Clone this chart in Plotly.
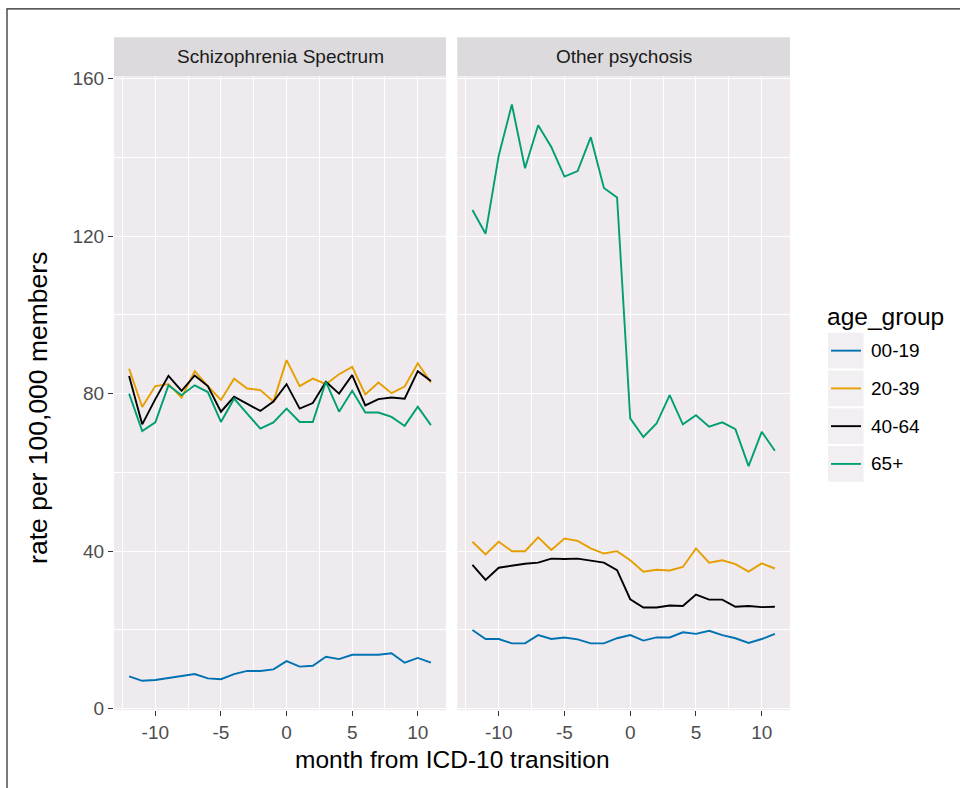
import plotly.graph_objects as go

months = list(range(-12, 12))
age_groups = ["00-19", "20-39", "40-64", "65+"]
colors = ["#0072B2", "#E69F00", "#000000", "#009E73"]
facets = ["Schizophrenia Spectrum", "Other psychosis"]

schiz_0019 = [8.2, 7.1, 7.3, 7.8, 8.3, 8.8, 7.7, 7.5, 8.8, 9.6, 9.6, 10.0,
              12.1, 10.7, 10.9, 13.2, 12.6, 13.7, 13.7, 13.7, 14.1, 11.7, 12.9, 11.7]
schiz_2039 = [86.3, 76.6, 81.9, 82.4, 79.0, 85.7, 81.9, 78.4, 83.8, 81.3, 80.9, 78.0,
              88.5, 81.9, 83.8, 82.4, 84.9, 86.8, 79.8, 82.8, 80.1, 81.8, 87.7, 82.8]
schiz_4064 = [84.5, 72.2, 78.6, 84.5, 80.7, 84.6, 81.9, 75.4, 79.2, 77.3, 75.6, 78.0,
              82.4, 76.2, 77.6, 83.0, 80.0, 84.7, 77.0, 78.6, 79.0, 78.7, 85.7, 83.2]
schiz_65 = [80.0, 70.5, 72.7, 82.1, 79.6, 82.1, 80.4, 72.8, 78.7, 75.0, 71.1, 72.7,
            76.2, 72.8, 72.8, 83.0, 75.4, 80.7, 75.2, 75.2, 74.1, 71.8, 76.7, 72.0]

other_0019 = [20.0, 17.7, 17.7, 16.6, 16.6, 18.7, 17.7, 18.1, 17.6, 16.6, 16.6, 17.9,
              18.7, 17.3, 18.1, 18.1, 19.4, 19.0, 19.8, 18.7, 17.9, 16.7, 17.7, 19.0]
other_2039 = [42.4, 39.2, 42.4, 40.0, 40.0, 43.5, 40.3, 43.2, 42.6, 40.7, 39.4, 40.0,
              37.7, 34.8, 35.3, 35.1, 36.0, 40.7, 37.1, 37.7, 36.7, 34.8, 36.9, 35.6]
other_4064 = [36.5, 32.7, 35.8, 36.3, 36.8, 37.1, 38.1, 38.0, 38.1, 37.6, 37.1, 35.2,
              27.8, 25.7, 25.7, 26.2, 26.1, 29.0, 27.7, 27.7, 25.9, 26.1, 25.8, 25.9]
other_65 = [126.6, 120.6, 140.4, 153.4, 137.2, 148.1, 142.6, 135.1, 136.5, 145.1, 132.2, 129.8,
            73.7, 69.0, 72.4, 79.6, 72.2, 74.5, 71.6, 72.7, 71.0, 61.6, 70.3, 65.5]

x_ticks = [-10, -5, 0, 5, 10]
y_ticks = [0, 40, 80, 120, 160]

W, H = 960, 788
# vertical calibration of the capture (measured from earlier renders)
VS, VO = 0.977, 8.7
def px(x):
    return x / W
def py(t):
    y = (t - VO) / VS
    return (H - y) / H

panel_bg = "#EEEAEE"
strip_bg = "#DCDADC"
font = "Liberation Sans, Arial, sans-serif"
small = 19
big = 24.5

fig = go.Figure()
series = [
    ("x", "y", [schiz_0019, schiz_2039, schiz_4064, schiz_65]),
    ("x2", "y2", [other_0019, other_2039, other_4064, other_65]),
]
for xa, ya, data in series:
    for vals, name, col in zip(data, age_groups, colors):
        fig.add_trace(go.Scatter(x=months, y=vals, mode="lines", name=name,
                                 line=dict(color=col, width=1.9),
                                 xaxis=xa, yaxis=ya, showlegend=False))

panel_x = [(114, 446), (457.3, 790)]
panel_y = (76.7, 710)

xaxis_common = dict(range=[-13.15, 12.15], tickvals=x_ticks,
                    ticktext=[str(v) for v in x_ticks],
                    showgrid=True, gridcolor="white", gridwidth=1.4,
                    minor=dict(dtick=2.5, tick0=0, showgrid=True, gridcolor="white", gridwidth=0.6),
                    zeroline=False, showline=False,
                    ticks="outside", ticklen=5, tickwidth=1.3, tickcolor="#333333",
                    tickfont=dict(family=font, size=small, color="#4D4D4D"),
                    fixedrange=True)
yaxis_common = dict(range=[-0.4, 160.6], tickvals=y_ticks,
                    showgrid=True, gridcolor="white", gridwidth=1.4,
                    minor=dict(dtick=20, tick0=0, showgrid=True, gridcolor="white", gridwidth=0.6),
                    zeroline=False, showline=False,
                    tickfont=dict(family=font, size=small, color="#4D4D4D"),
                    fixedrange=True)

fig.update_layout(
    width=W, height=H,
    margin=dict(l=0, r=0, t=0, b=0),
    paper_bgcolor="white",
    plot_bgcolor=panel_bg,
    xaxis=dict(domain=[px(panel_x[0][0]), px(panel_x[0][1])], anchor="y", **xaxis_common),
    xaxis2=dict(domain=[px(panel_x[1][0]), px(panel_x[1][1])], anchor="y2", **xaxis_common),
    yaxis=dict(domain=[py(panel_y[1]), py(panel_y[0])], anchor="x",
               ticks="outside", ticklen=5, tickwidth=1.3, tickcolor="#333333",
               ticktext=[str(v) for v in y_ticks], **yaxis_common),
    yaxis2=dict(domain=[py(panel_y[1]), py(panel_y[0])], anchor="x2",
                showticklabels=False, ticks="", **yaxis_common),
    showlegend=False,
)

shapes = []
annotations = []
# strips
for (x0, x1), title in zip(panel_x, facets):
    shapes.append(dict(type="rect", xref="paper", yref="paper",
                       x0=px(x0), x1=px(x1), y0=py(76.7), y1=py(38),
                       fillcolor=strip_bg, line=dict(width=0), layer="below"))
    annotations.append(dict(xref="paper", yref="paper", x=px((x0 + x1) / 2), y=py(57.5),
                            text=title, showarrow=False, xanchor="center", yanchor="middle",
                            font=dict(family=font, size=small, color="#1A1A1A")))

# axis titles
annotations.append(dict(xref="paper", yref="paper", x=px(452), y=py(759),
                        text="month from ICD-10 transition", showarrow=False,
                        xanchor="center", yanchor="middle",
                        font=dict(family=font, size=big, color="black")))
annotations.append(dict(xref="paper", yref="paper", x=px(38), y=py(408),
                        text="rate per 100,000 members", showarrow=False, textangle=-90,
                        xanchor="center", yanchor="middle",
                        font=dict(family=font, size=26.5, color="black")))

# legend (manual)
annotations.append(dict(xref="paper", yref="paper", x=px(825), y=py(317),
                        text="age_group", showarrow=False, xanchor="left", yanchor="middle",
                        font=dict(family=font, size=big, color="black")))
key_top = 332
key_h = 37.7
for i, (name, col) in enumerate(zip(age_groups, colors)):
    y0 = key_top + i * key_h
    yc = y0 + key_h / 2
    shapes.append(dict(type="rect", xref="paper", yref="paper",
                       x0=px(828), x1=px(863.5), y0=py(y0 + key_h - 1), y1=py(y0 + 1),
                       fillcolor="#F2EFF2", line=dict(width=0)))
    shapes.append(dict(type="line", xref="paper", yref="paper",
                       x0=px(831), x1=px(861), y0=py(yc), y1=py(yc),
                       line=dict(color=col, width=1.9)))
    annotations.append(dict(xref="paper", yref="paper", x=px(869), y=py(yc),
                            text=name, showarrow=False, xanchor="left", yanchor="middle",
                            font=dict(family=font, size=small, color="black")))

# outer border
shapes.append(dict(type="rect", xref="paper", yref="paper",
                   x0=px(7), x1=px(975), y0=py(800), y1=py(9.6),
                   line=dict(color="#222222", width=1.2), fillcolor="rgba(0,0,0,0)"))

fig.update_layout(shapes=shapes, annotations=annotations)
fig.write_html("out.html", config={"displayModeBar": False},
               post_script="document.body.style.margin='0';document.body.style.overflow='hidden';")
